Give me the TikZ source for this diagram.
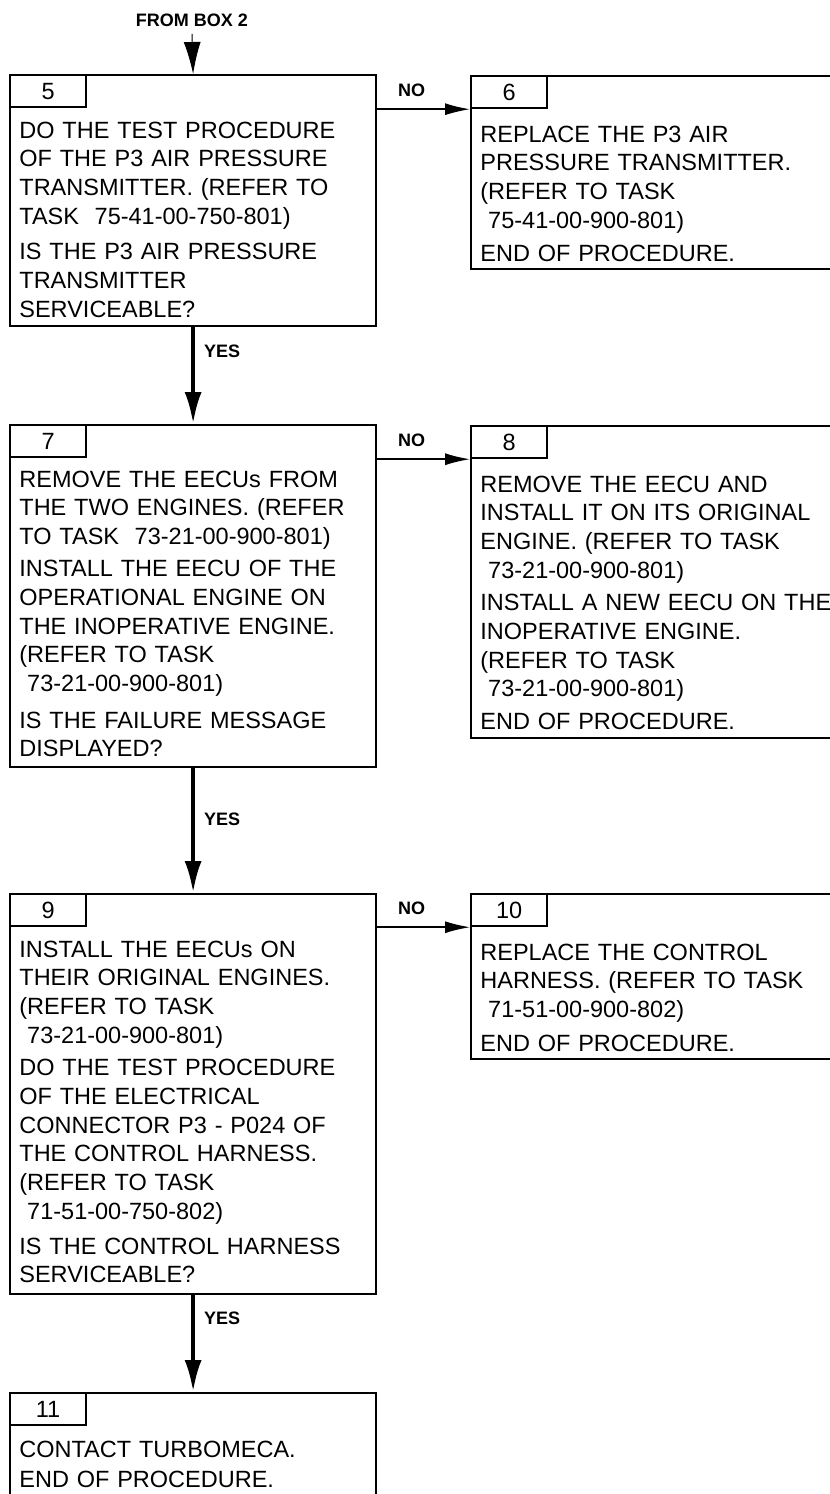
\documentclass[tikz,border=0pt]{standalone}
\usepackage{fontspec}
\setmainfont{Liberation Sans}
\usetikzlibrary{arrows.meta, positioning, calc}

\tikzset{
  stepbox/.style={draw, line width=1.1pt, anchor=north west, inner sep=0pt, minimum width=183pt},
  numtab/.style={draw, line width=1.1pt, anchor=north west, inner sep=0pt,
    minimum width=38pt, minimum height=16pt, font=\fontsize{11.75}{14}\selectfont},
  boxtext/.style={anchor=base west, inner sep=0pt, text width=180pt, align=left,
    font=\fontsize{11.75}{14.35}\selectfont},
  answer/.style={inner sep=0pt, font=\bfseries\fontsize{9}{11}\selectfont},
  yesarrow/.style={line width=2pt, -{Latex[length=16pt, width=8.5pt]}},
  noarrow/.style={line width=0.75pt, -{Latex[length=12.5pt, width=6pt]}},
}

\begin{document}
\begin{tikzpicture}[x=0.5pt, y=-0.5pt]
    \useasboundingbox (0,0) rectangle (830,1494);

    % Left column: boxes 5, 7, 9, 11
    \node[answer] (from2) at (192,20) {FROM BOX 2};
    \node[stepbox, minimum height=125.5pt] (box5) at (9,74) {};
    \node[stepbox, minimum height=171pt] (box7) at (9,424) {};
    \node[stepbox, minimum height=200pt] (box9) at (9,893) {};
    \node[stepbox, minimum height=70pt] (box11) at (9,1392) {};

    % Right column: boxes 6, 8, 10
    \node[stepbox, minimum width=185pt, minimum height=96.5pt] (box6) at (470,75) {};
    \node[stepbox, minimum width=185pt, minimum height=156pt] (box8) at (470,425) {};
    \node[stepbox, minimum width=185pt, minimum height=82.5pt] (box10) at (470,893) {};

    % Number tabs
    \foreach \n in {5,...,11} {
        \node[numtab] (tab\n) at (box\n.north west) {\n};
    }

    % Box texts
    \node[boxtext] (text5) at ($(box5.north west)+(10,64)$)
        {DO THE TEST PROCEDURE\\ OF THE P3 AIR PRESSURE\\ TRANSMITTER. (REFER TO\\
         TASK\ \ 75-41-00-750-801)\\[3.5pt]
         IS THE P3 AIR PRESSURE\\ TRANSMITTER\\ SERVICEABLE?};
    \node[boxtext] (text6) at ($(box6.north west)+(10,67)$)
        {REPLACE THE P3 AIR\\ PRESSURE TRANSMITTER.\\ (REFER TO TASK\\
         \ 75-41-00-900-801)\\[2.5pt]
         END OF PROCEDURE.};
    \node[boxtext] (text7) at ($(box7.north west)+(10,63)$)
        {REMOVE THE EECUs FROM\\ THE TWO ENGINES. (REFER\\ TO TASK\ \ 73-21-00-900-801)\\[1.8pt]
         INSTALL THE EECU OF THE\\ OPERATIONAL ENGINE ON\\ THE INOPERATIVE ENGINE.\\
         (REFER TO TASK\\ \ 73-21-00-900-801)\\[4pt]
         IS THE FAILURE MESSAGE\\ DISPLAYED?};
    \node[boxtext] (text8) at ($(box8.north west)+(10,67)$)
        {REMOVE THE EECU AND\\ INSTALL IT ON ITS ORIGINAL\\ ENGINE. (REFER TO TASK\\
         \ 73-21-00-900-801)\\[2pt]
         INSTALL A NEW EECU ON THE\\ INOPERATIVE ENGINE.\\ (REFER TO TASK\\
         \ 73-21-00-900-801)\\[2pt]
         END OF PROCEDURE.};
    \node[boxtext] (text9) at ($(box9.north west)+(10,64)$)
        {INSTALL THE EECUs ON\\ THEIR ORIGINAL ENGINES.\\ (REFER TO TASK\\
         \ 73-21-00-900-801)\\[2pt]
         DO THE TEST PROCEDURE\\ OF THE ELECTRICAL\\ CONNECTOR P3 - P024 OF\\
         THE CONTROL HARNESS.\\ (REFER TO TASK\\ \ 71-51-00-750-802)\\[3pt]
         IS THE CONTROL HARNESS\\ SERVICEABLE?};
    \node[boxtext] (text10) at ($(box10.north west)+(10,67)$)
        {REPLACE THE CONTROL\\ HARNESS. (REFER TO TASK\\ \ 71-51-00-900-802)\\[2.5pt]
         END OF PROCEDURE.};
    \node[boxtext] (text11) at ($(box11.north west)+(10,65)$)
        {CONTACT TURBOMECA.\\[1pt] END OF PROCEDURE.};

    % YES connectors
    \draw[line width=0.5pt, -{Latex[length=16pt, width=8.5pt]}]
        ([yshift=-3.5pt]from2.south) -- (box5.north);
    \draw[yesarrow] (box5.south) -- node[answer, pos=0.25, right=4.5pt] {YES} (box7.north);
    \draw[yesarrow] (box7.south) -- node[answer, pos=0.41, right=4.5pt] {YES} (box9.north);
    \draw[yesarrow] (box9.south) -- node[answer, pos=0.24, right=4.5pt] {YES} (box11.north);

    % NO connectors
    \draw[noarrow] (box5.east |- tab6.south west) -- node[answer, pos=0.37, above=6pt] {NO} (tab6.south west);
    \draw[noarrow] (box7.east |- tab8.south west) -- node[answer, pos=0.37, above=6pt] {NO} (tab8.south west);
    \draw[noarrow] (box9.east |- tab10.south west) -- node[answer, pos=0.37, above=6pt] {NO} (tab10.south west);
\end{tikzpicture}
\end{document}
